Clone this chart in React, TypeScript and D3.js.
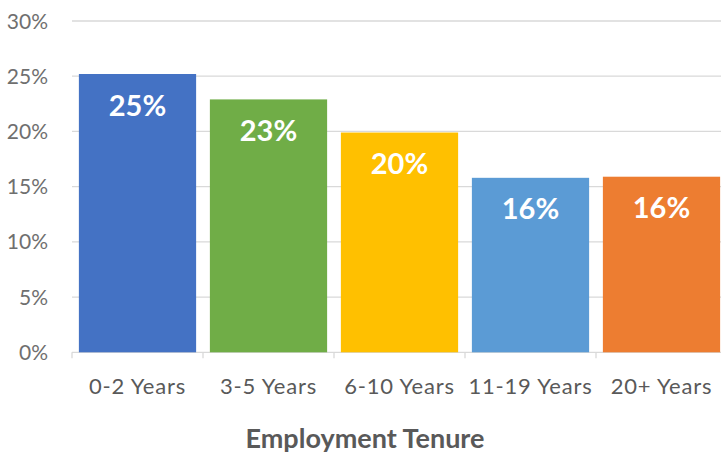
import React from "react";
import * as d3 from "d3";

const categories = ["0-2 Years", "3-5 Years", "6-10 Years", "11-19 Years", "20+ Years"];
const values = [25.2, 22.9, 19.9, 15.8, 15.9];
const labels = ["25%", "23%", "20%", "16%", "16%"];
const colors = ["#4472C4", "#70AD47", "#FFC000", "#5B9BD5", "#ED7D31"];
const yTicks = [0, 5, 10, 15, 20, 25, 30];
const xTitle = "Employment Tenure";

const W = 721;
const H = 455;
const FONT = "Lato, 'Open Sans', sans-serif";

export default function App() {
  const x = d3.scaleBand<string>().domain(categories).range([72, 727]).paddingInner(0.105).paddingOuter(0.0525);
  const y = d3.scaleLinear().domain([0, 30]).range([352.3, 21]);
  const band = (727 - 72) / categories.length;

  return (
    <svg width={W} height={H} style={{ position: "absolute", left: 0, top: 0, background: "#fff" }}>
      {yTicks.map((t) => (
        <g key={t}>
          <line x1={72} x2={W} y1={y(t)} y2={y(t)} stroke="#d9d9d9" strokeWidth={1.3} />
          <text x={48} y={y(t)} dy="0.36em" textAnchor="end" fontFamily={FONT} fontSize={21} fill="#6f6f6f">
            {t}%
          </text>
        </g>
      ))}
      {categories.map((c, i) => (
        <line key={"tk" + i} x1={72 + band * i} x2={72 + band * i} y1={y(0)} y2={y(0) + 6} stroke="#d9d9d9" strokeWidth={1.3} />
      ))}
      {categories.map((c, i) => (
        <g key={c}>
          <rect x={x(c)} y={y(values[i])} width={x.bandwidth()} height={y(0) - y(values[i])} fill={colors[i]} />
          <text
            x={(x(c) as number) + x.bandwidth() / 2}
            y={y(values[i]) + 41.5}
            textAnchor="middle"
            fontFamily={FONT}
            fontWeight="bold"
            fontSize={29}
            fill="#fff"
          >
            {labels[i]}
          </text>
          <text
            x={(x(c) as number) + x.bandwidth() / 2}
            y={386.3}
            dy="0.36em"
            textAnchor="middle"
            fontFamily={FONT}
            fontSize={22}
            letterSpacing={0.8}
            fill="#595959"
          >
            {c}
          </text>
        </g>
      ))}
      <text x={365} y={438} dy="0.36em" textAnchor="middle" fontFamily={FONT} fontWeight="bold" fontSize={27} fill="#595959">
        {xTitle}
      </text>
    </svg>
  );
}
